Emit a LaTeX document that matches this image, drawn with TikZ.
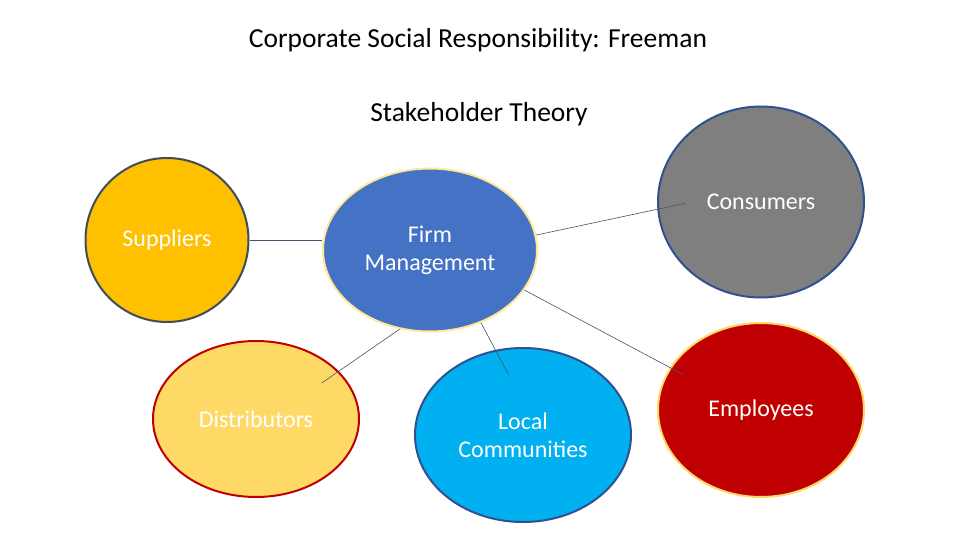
\documentclass[tikz,border=0pt]{standalone}
\usepackage{fontspec}
\setmainfont{Carlito}
\usepackage{tikz}
\usetikzlibrary{shapes.geometric}

\definecolor{supfill}{HTML}{FFC000}
\definecolor{firmfill}{HTML}{4472C4}
\definecolor{consfill}{HTML}{7F7F7F}
\definecolor{empfill}{HTML}{C00000}
\definecolor{distfill}{HTML}{FFD966}
\definecolor{localfill}{HTML}{00B0F0}
\definecolor{darkblue}{HTML}{2F528F}
\definecolor{slate}{HTML}{3E4C5C}
\definecolor{paleyellow}{HTML}{FFE699}
\definecolor{linkcol}{HTML}{44546A}

\tikzset{
    party/.style = {ellipse, inner sep = 0pt, line width = 2pt, text = white, align = center,
        font = {\fontsize{24}{28}\selectfont}},
    link/.style = {draw = linkcol, line width = 0.6pt}
}

\begin{document}
\begin{tikzpicture}[x = 1pt, y = -1pt]
        \useasboundingbox (0, 0) rectangle (960, 540);
        \fill[white] (0, 0) rectangle (960, 540);

        \node[font = {\fontsize{27.5}{33}\selectfont}, black] (title) at (478, 40) {Corporate Social Responsibility: Freeman};
        \node[font = {\fontsize{27.5}{33}\selectfont}, black] (subtitle) at (479, 114) {Stakeholder Theory};

        \node[party, fill = supfill, draw = slate, minimum width = 163pt, minimum height = 164pt] (sup) at (167, 240) {Suppliers};
        \node[party, fill = firmfill, draw = paleyellow, minimum width = 214pt, minimum height = 163pt] (firm) at (430, 250) {Firm\\Management};
        \node[party, fill = consfill, draw = darkblue, minimum width = 206pt, minimum height = 191pt] (cons) at (761, 202) {Consumers};
        \node[party, fill = empfill, draw = distfill, minimum width = 206pt, minimum height = 174pt] (emp) at (761, 410) {Employees};
        \node[party, fill = distfill, draw = empfill, minimum width = 206pt, minimum height = 156pt] (dist) at (256, 419) {Distributors};
        \node[party, fill = localfill, draw = darkblue, minimum width = 216pt, minimum height = 174pt] (local) at (523, 435) {Local\\Communities};

        \draw[link] (sup.east) -- (sup.east -| firm.west);
        \draw[link, shorten >= -29pt] (firm.8) -- (cons.184);
        \draw[link, shorten >= -16pt] (firm.337) -- (emp.155);
        \draw[link, shorten >= -28pt] (firm.305) -- (local.108);
        \draw[link, shorten >= -21pt] (firm.249) -- (dist.30);
    \end{tikzpicture}
\end{document}
